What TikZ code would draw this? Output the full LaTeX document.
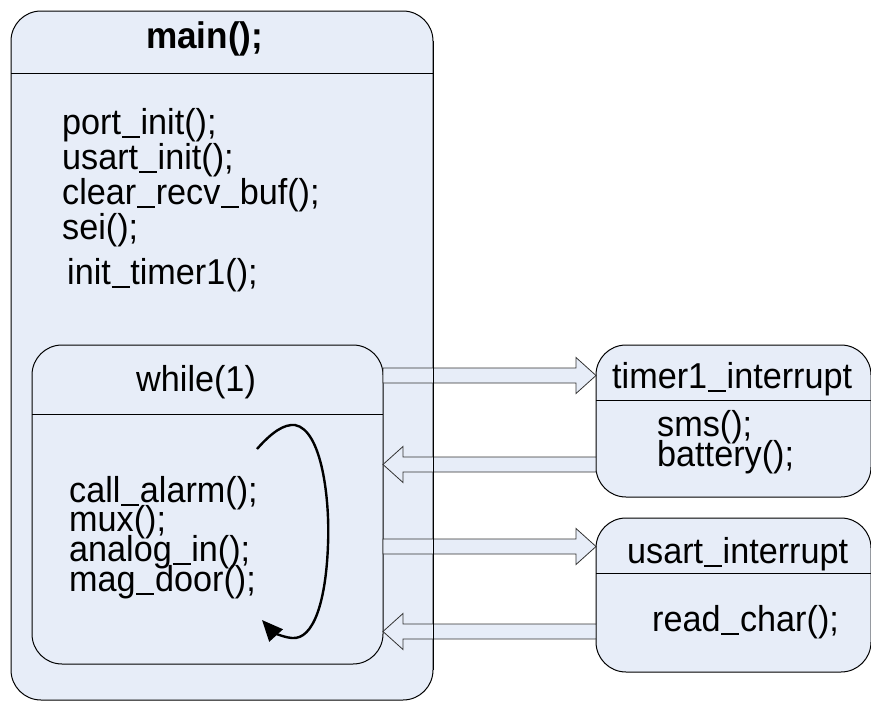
\documentclass[tikz,border=0pt]{standalone}
\usepackage{fontspec}
\setmainfont{Liberation Sans}[FakeStretch=0.95]
\usetikzlibrary{arrows.meta,calc}
\definecolor{boxfill}{RGB}{231,237,248}
\newcommand\stacklines[2]{\vtop{\baselineskip=#1\lineskiplimit=-1000pt\lineskip=0pt #2}}
\newcommand\us{\kern0.02em\rule[-0.1em]{0.5em}{0.055em}\kern0.02em}
\tikzset{
  box/.style={draw=black, line width=1pt, fill=boxfill, rounded corners=30pt, rectangle,
    anchor=north west, inner sep=0pt, outer sep=0pt},
  txt/.style={anchor=base west, inner sep=0pt, font=\fontsize{36}{36}\selectfont},
  hdr/.style={draw=black, line width=1pt},
  arrline/.style={draw=black!80, line width=0.8pt, fill=boxfill},
  loop/.style={draw=black, line width=2.4pt, -{Triangle[length=21pt,width=18pt]}}
}
\newcommand\blockarr[2]{%
  \path[arrline] let \p1=(#1), \p2=(#2), \n1={sign(\x2-\x1)} in
    (\x1,\y1+7.5pt) -- (\x2-\n1*20pt,\y1+7.5pt) -- (\x2-\n1*20pt,\y1+18pt) -- (\x2,\y1)
    -- (\x2-\n1*20pt,\y1-18pt) -- (\x2-\n1*20pt,\y1-7.5pt) -- (\x1,\y1-7.5pt) -- cycle;}
\begin{document}
\begin{tikzpicture}[x=1pt,y=-1pt]
\useasboundingbox (0,0) rectangle (871,702);
\begin{scope}
\clip (0,0) rectangle (871,702);
% main box
\node[box, minimum width=422pt, minimum height=689pt] (main) at (11,11) {};
\draw[hdr] (main.west |- 0,73) -- (main.east |- 0,73);
\node[txt, font=\fontsize{37}{37}\selectfont\bfseries] (mtitle) at (146,48) {main();};
\node[txt] (mlist) at (62,134) {\stacklines{35.3pt}{\hbox{port\us init();}\hbox{usart\us init();}\hbox{clear\us recv\us buf();}\hbox{sei();}}};
\node[txt] (l5) at (67,284) {init\us timer1();};
% while box
\node[box, minimum width=351pt, minimum height=319pt] (while) at (32,345) {};
\draw[hdr] (while.west |- 0,414) -- (while.east |- 0,414);
\node[txt] (wtitle) at (136,391) {while(1)};
\node[txt] (wlist) at (69,502) {\stacklines{29.8pt}{\hbox{call\us alarm();}\hbox{mux();}\hbox{analog\us in();}\hbox{mag\us door();}}};
% timer1 box
\node[box, minimum width=275pt, minimum height=152pt] (timer) at (596,345) {};
\draw[hdr] (timer.west |- 0,400) -- (timer.east |- 0,400);
\node[txt] (ttitle) at (612,388) {timer1\us interrupt};
\node[txt] (tlist) at (657,436) {\stacklines{30.5pt}{\hbox{sms();}\hbox{battery();}}};
% usart box
\node[box, minimum width=275pt, minimum height=154pt] (usart) at (596,518) {};
\draw[hdr] (usart.west |- 0,573) -- (usart.east |- 0,573);
\node[txt] (utitle) at (627,563) {usart\us interrupt};
\node[txt] (u1) at (652,631) {read\us char();};
% connector anchor points
\coordinate (a1s) at (while.east |- 0,375.5);
\coordinate (a1e) at (timer.west |- 0,375.5);
\coordinate (a2s) at (timer.west |- 0,464.5);
\coordinate (a2e) at (while.east |- 0,464.5);
\coordinate (a3s) at (while.east |- 0,546.5);
\coordinate (a3e) at (usart.west |- 0,546.5);
\coordinate (a4s) at (usart.west |- 0,631.5);
\coordinate (a4e) at (while.east |- 0,631.5);
\blockarr{a1s}{a1e}
\blockarr{a2s}{a2e}
\blockarr{a3s}{a3e}
\blockarr{a4s}{a4e}
% main box right edge drawn over the arrows
\draw[black, line width=1pt] ($(main.north east)+(0,30)$) -- ($(main.south east)+(0,-30)$);
% loop arrow
\draw[loop] (257,449) .. controls (272,432) and (284,424) .. (295,425)
  .. controls (322,430) and (330,500) .. (328,545)
  .. controls (326,600) and (314,640) .. (292,638)
  .. controls (281,637) and (272,631) .. (262,620);
\end{scope}
\end{tikzpicture}
\end{document}
